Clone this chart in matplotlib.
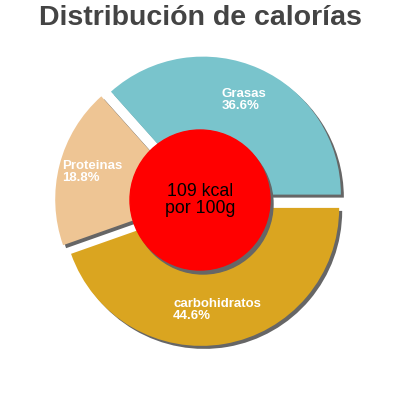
import matplotlib
matplotlib.use("Agg")
import matplotlib.pyplot as plt
from matplotlib.patches import Circle

labels = ["Grasas", "Proteinas", "carbohidratos"]
percent = [36.6, 18.8, 44.6]
colors = ["#79c4cc", "#eec594", "#daa520"]
kcal = 109

plt.rcParams['font.family'] = ['Liberation Sans', 'DejaVu Sans']

fig = plt.figure(figsize=(4, 4), dpi=100)
ax = fig.add_axes([0, 0, 1, 1])
ax.set_xlim(0, 400)
ax.set_ylim(0, 400)
ax.set_aspect("equal")
ax.axis("off")

cx, cy, R = 200, 199, 138
explode = [7] * len(percent)  # pie explode is in data units, not radius fraction

# shadow first, then the real pie
ax.pie(percent, colors=["#666666"] * 3, explode=explode, startangle=0,
       counterclock=True, center=(cx + 3, cy - 3), radius=R, frame=True)
ax.pie(percent, colors=colors, explode=explode, startangle=0,
       counterclock=True, center=(cx, cy), radius=R, frame=True)

ax.add_patch(Circle((cx + 3, cy - 3), 70, color="#666666", zorder=5))
ax.add_patch(Circle((cx, cy + 1), 70, color="#ff0000", zorder=6))
ax.text(cx, cy + 1, "%d kcal\npor 100g" % kcal, ha="center", va="center",
        fontsize=12.8, color="black", zorder=7, linespacing=1.05)

# label positions (top-left of text)
pos = [(222, 312), (62, 240), (173, 102)]
for (x, y), lab, p in zip(pos, labels, percent):
    ax.text(x, y, "%s\n%.1f%%" % (lab, p), ha="left", va="top", color="white",
            fontsize=9.5, fontweight="bold", linespacing=0.95, zorder=4)

ax.set_xlim(0, 400)
ax.set_ylim(0, 400)
fig.text(0.5, 0.955, "Distribución de calorías", ha="center", va="center",
         fontsize=20.5, fontweight="bold", color="#444444")

fig.savefig("out.png", dpi=100)
